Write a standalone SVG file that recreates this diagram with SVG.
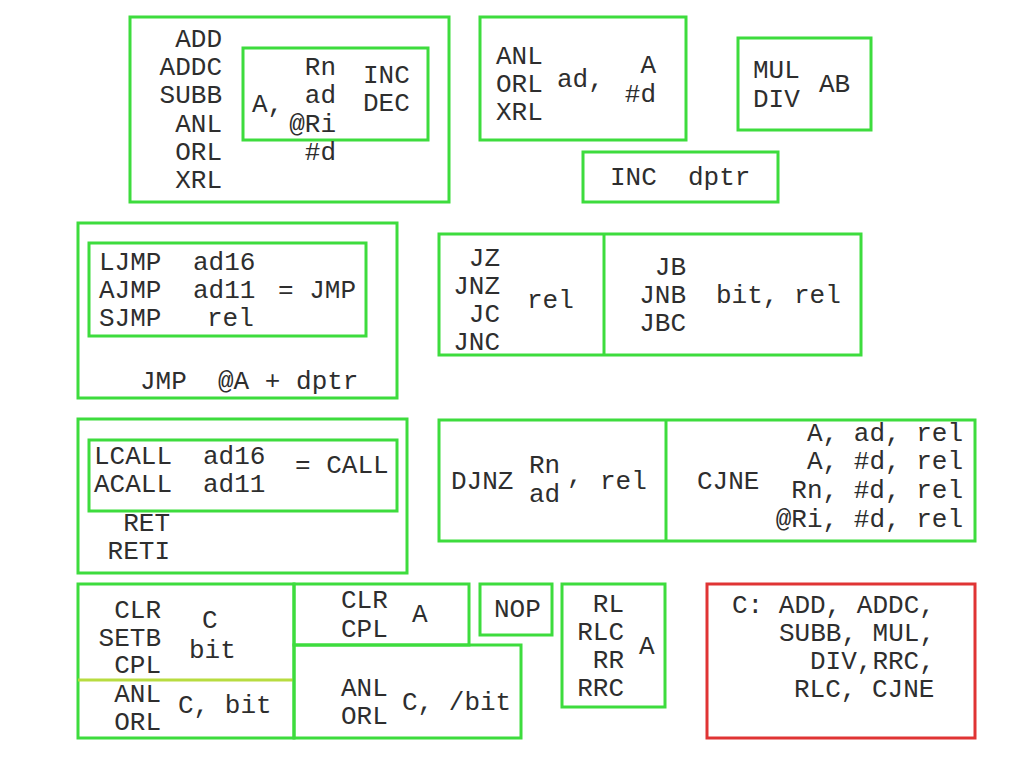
<svg xmlns="http://www.w3.org/2000/svg" width="1024" height="767" viewBox="0 0 1024 767">
<style>
text{font-family:"Liberation Mono","Courier New",monospace;font-size:26px;fill:#2e2e2e;white-space:pre}
.e{text-anchor:end}
.g{fill:none;stroke:#3ddc3d;stroke-width:3}
.r{fill:none;stroke:#e03434;stroke-width:3}
</style>
<rect width="1024" height="767" fill="#fff"/>
<g id="arith">
<rect class="g" x="130" y="17" width="319" height="185"/>
<rect class="g" x="243" y="48" width="185" height="92"/>
<text class="e" x="222" y="47">ADD</text>
<text class="e" x="222" y="75">ADDC</text>
<text class="e" x="222" y="103">SUBB</text>
<text class="e" x="222" y="132">ANL</text>
<text class="e" x="222" y="160">ORL</text>
<text class="e" x="222" y="188">XRL</text>
<text x="252" y="112">A,</text>
<text class="e" x="336" y="75">Rn</text>
<text class="e" x="336" y="103">ad</text>
<text class="e" x="336" y="132">@Ri</text>
<text class="e" x="336" y="160">#d</text>
<text x="363" y="83">INC</text>
<text x="363" y="111">DEC</text>
</g>
<g id="logic-ad">
<rect class="g" x="480" y="17" width="206" height="123"/>
<text x="496" y="64">ANL</text>
<text x="496" y="92">ORL</text>
<text x="496" y="120">XRL</text>
<text x="557" y="87">ad,</text>
<text class="e" x="656" y="73">A</text>
<text class="e" x="656" y="102">#d</text>
</g>
<g id="muldiv">
<rect class="g" x="738" y="38" width="133" height="92"/>
<text x="753" y="78">MUL</text>
<text x="753" y="107">DIV</text>
<text x="819" y="92">AB</text>
</g>
<g id="incdptr">
<rect class="g" x="583" y="152" width="195" height="50"/>
<text x="610" y="185">INC  dptr</text>
</g>
<g id="jmp">
<rect class="g" x="78" y="223" width="319" height="175"/>
<rect class="g" x="89" y="243" width="277" height="93"/>
<text x="99" y="270">LJMP</text>
<text x="193" y="270">ad16</text>
<text x="99" y="298">AJMP</text>
<text x="193" y="298">ad11</text>
<text x="278" y="298">= JMP</text>
<text x="99" y="326">SJMP</text>
<text x="207" y="326">rel</text>
<text x="140" y="389">JMP  @A + dptr</text>
</g>
<g id="condjmp">
<rect class="g" x="439" y="234" width="422" height="121"/>
<line class="g" x1="604" y1="234" x2="604" y2="355"/>
<text class="e" x="500" y="266">JZ</text>
<text class="e" x="500" y="294">JNZ</text>
<text class="e" x="500" y="322">JC</text>
<text class="e" x="500" y="350">JNC</text>
<text x="527" y="308">rel</text>
<text class="e" x="686" y="275">JB</text>
<text class="e" x="686" y="303">JNB</text>
<text class="e" x="686" y="331">JBC</text>
<text x="716" y="303">bit, rel</text>
</g>
<g id="call">
<rect class="g" x="78" y="419" width="329" height="154"/>
<rect class="g" x="89" y="440" width="308" height="71"/>
<text x="94" y="464">LCALL</text>
<text x="203" y="464">ad16</text>
<text x="94" y="492">ACALL</text>
<text x="203" y="492">ad11</text>
<text x="295" y="473">= CALL</text>
<text class="e" x="170" y="531">RET</text>
<text class="e" x="170" y="559">RETI</text>
</g>
<g id="djnz-cjne">
<rect class="g" x="439" y="420" width="536" height="121"/>
<line class="g" x1="666" y1="420" x2="666" y2="541"/>
<text x="451" y="489">DJNZ</text>
<text x="529" y="473">Rn</text>
<text x="529" y="502">ad</text>
<text x="567" y="483">,</text>
<text x="600" y="489">rel</text>
<text x="697" y="489">CJNE</text>
<text class="e" x="963" y="441">A, ad, rel</text>
<text class="e" x="963" y="469">A, #d, rel</text>
<text class="e" x="963" y="498">Rn, #d, rel</text>
<text class="e" x="963" y="527">@Ri, #d, rel</text>
</g>
<g id="bitops">
<rect class="g" x="78" y="584" width="216" height="154"/>
<line x1="78" y1="680" x2="294" y2="680" stroke="#b8dc40" stroke-width="3"/>
<text class="e" x="161" y="618">CLR</text>
<text class="e" x="161" y="646">SETB</text>
<text class="e" x="161" y="673">CPL</text>
<text x="202" y="628">C</text>
<text x="189" y="658">bit</text>
<text class="e" x="161" y="702">ANL</text>
<text class="e" x="161" y="730">ORL</text>
<text x="178" y="713">C, bit</text>
</g>
<g id="clr-a">
<rect class="g" x="294" y="584" width="175" height="61"/>
<text x="341" y="608">CLR</text>
<text x="341" y="637">CPL</text>
<text x="412" y="622">A</text>
</g>
<g id="notbit">
<rect class="g" x="294" y="645" width="227" height="93"/>
<text x="341" y="696">ANL</text>
<text x="341" y="724">ORL</text>
<text x="402" y="710">C, /bit</text>
</g>
<g id="nop">
<rect class="g" x="480" y="584" width="72" height="51"/>
<text x="494" y="617">NOP</text>
</g>
<g id="rotate">
<rect class="g" x="562" y="584" width="103" height="123"/>
<text class="e" x="624" y="612">RL</text>
<text class="e" x="624" y="640">RLC</text>
<text class="e" x="624" y="668">RR</text>
<text class="e" x="624" y="696">RRC</text>
<text x="639" y="654">A</text>
</g>
<g id="carry-note">
<rect class="r" x="707" y="584" width="268" height="154"/>
<text x="732" y="613">C: ADD, ADDC,</text>
<text x="779" y="641">SUBB, MUL,</text>
<text x="810" y="669">DIV,RRC,</text>
<text x="794" y="697">RLC, CJNE</text>
</g>
</svg>
